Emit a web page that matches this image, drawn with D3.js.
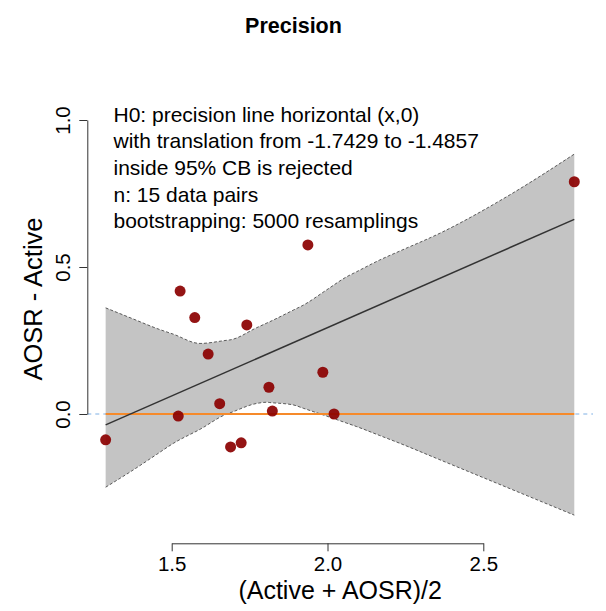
<!DOCTYPE html>
<html>
<head>
<meta charset="utf-8">
<script src="https://cdn.jsdelivr.net/npm/d3@7"></script>
<style>
  body { margin: 0; background: #fff; }
  svg { display: block; font-family: "Liberation Sans", Arial, sans-serif; }
</style>
</head>
<body>
<svg id="chart" width="606" height="611"></svg>
<script>
// values
const meanX = [1.288, 1.527, 1.574, 1.741, 1.617, 1.521, 1.654, 1.812, 1.823, 1.985, 2.021, 1.689, 1.723, 2.792, 1.937];
const diffY = [-0.088, 0.418, 0.328, 0.303, 0.204, -0.007, 0.035, 0.091, 0.010, 0.142, 0.0, -0.112, -0.098, 0.790, 0.575];

const bandUpperX = [1.288, 1.452, 1.591, 1.687, 1.815, 1.922, 2.062, 2.168, 2.361, 2.575, 2.792];
const bandUpperY = [0.361, 0.291, 0.240, 0.252, 0.314, 0.370, 0.467, 0.524, 0.615, 0.739, 0.884];
const bandLowerX = [1.288, 1.377, 1.505, 1.591, 1.677, 1.773, 1.805, 1.890, 1.997, 2.094, 2.233, 2.792];
const bandLowerY = [-0.249, -0.190, -0.100, -0.052, 0.000, 0.036, 0.040, 0.031, -0.007, -0.043, -0.100, -0.344];

const fitX = [1.288, 2.792];
const fitY = [-0.037, 0.662];

const xTicks = [1.5, 2.0, 2.5];
const yTicks = [0.0, 0.5, 1.0];

const notes = [
  "H0: precision line horizontal (x,0)",
  "with translation from -1.7429 to -1.4857",
  "inside 95% CB is rejected",
  "n: 15 data pairs",
  "bootstrapping: 5000 resamplings"
];

const svg = d3.select("#chart");

const x = d3.scaleLinear().domain([1.5, 2.5]).range([171.7, 483.3]);
const y = d3.scaleLinear().domain([0, 1]).range([414, 120]);
const plotLeft = 87.3, plotRight = 593;

// confidence band: fill between the two edges on a shared x grid
const upInterp = d3.scaleLinear().domain(bandUpperX).range(bandUpperY);
const loInterp = d3.scaleLinear().domain(bandLowerX).range(bandLowerY);
const gridX = Array.from(new Set(bandUpperX.concat(bandLowerX))).sort((a, b) => a - b);

const area = d3.area()
    .x(d => x(d))
    .y0(d => y(loInterp(d)))
    .y1(d => y(upInterp(d)))
    .curve(d3.curveMonotoneX);

svg.append("path")
    .attr("d", area(gridX))
    .attr("fill", "#c4c4c4");

const edge = d3.line().x(d => x(d[0])).y(d => y(d[1])).curve(d3.curveMonotoneX);
[gridX.map(v => [v, upInterp(v)]), gridX.map(v => [v, loInterp(v)])].forEach(pts => {
  svg.append("path")
      .attr("d", edge(pts))
      .attr("fill", "none")
      .attr("stroke", "#5a5a5a")
      .attr("stroke-width", 1)
      .attr("stroke-dasharray", "3,2");
});

// reference lines
svg.append("line")
    .attr("x1", plotLeft).attr("x2", plotRight)
    .attr("y1", y(0)).attr("y2", y(0))
    .attr("stroke", "#7fb0e4")
    .attr("stroke-width", 1)
    .attr("stroke-dasharray", "4,4");

svg.append("line")
    .attr("x1", x(fitX[0])).attr("x2", x(fitX[1]))
    .attr("y1", y(0)).attr("y2", y(0))
    .attr("stroke", "#f68a2a")
    .attr("stroke-width", 2);

svg.append("line")
    .attr("x1", x(fitX[0])).attr("x2", x(fitX[1]))
    .attr("y1", y(fitY[0])).attr("y2", y(fitY[1]))
    .attr("stroke", "#333")
    .attr("stroke-width", 1.5);

// points
svg.append("g")
  .selectAll("circle")
  .data(meanX)
  .join("circle")
    .attr("cx", d => x(d))
    .attr("cy", (d, i) => y(diffY[i]))
    .attr("r", 5.5)
    .attr("fill", "#8b0000")
    .attr("fill-opacity", 0.92);

// axes
const xAxis = svg.append("g")
    .attr("transform", "translate(0,543.3)")
    .call(d3.axisBottom(x).tickValues(xTicks).tickFormat(d3.format(".1f"))
      .tickSize(8).tickSizeOuter(0).tickPadding(5));
xAxis.attr("font-family", null);
xAxis.selectAll("line, path").attr("stroke", "#333");
xAxis.selectAll("text").attr("font-size", 20.5).attr("fill", "#000");

const yAxis = svg.append("g")
    .attr("transform", `translate(${plotLeft},0)`)
    .call(d3.axisLeft(y).tickValues(yTicks).tickFormat(d3.format(".1f"))
      .tickSize(8).tickSizeOuter(0));
yAxis.attr("font-family", null);
yAxis.selectAll("line, path").attr("stroke", "#333");
yAxis.selectAll("text")
    .attr("font-size", 20.5)
    .attr("fill", "#000")
    .attr("transform", "rotate(-90)")
    .attr("text-anchor", "middle")
    .attr("x", 0)
    .attr("y", -17)
    .attr("dy", null);

// titles and labels
svg.append("text")
    .attr("x", 293.5).attr("y", 33)
    .attr("text-anchor", "middle")
    .attr("font-weight", "bold")
    .attr("font-size", 21.5)
    .text("Precision");

svg.append("text")
    .attr("x", (plotLeft + plotRight) / 2).attr("y", 599)
    .attr("text-anchor", "middle")
    .attr("font-size", 25)
    .text("(Active + AOSR)/2");

svg.append("text")
    .attr("transform", "translate(41.5,299) rotate(-90)")
    .attr("text-anchor", "middle")
    .attr("font-size", 25.5)
    .text("AOSR - Active");

svg.append("g")
  .selectAll("text")
  .data(notes)
  .join("text")
    .attr("x", 113.5)
    .attr("y", (d, i) => 121.5 + i * 26.7)
    .attr("font-size", 21)
    .text(d => d);
</script>
</body>
</html>
